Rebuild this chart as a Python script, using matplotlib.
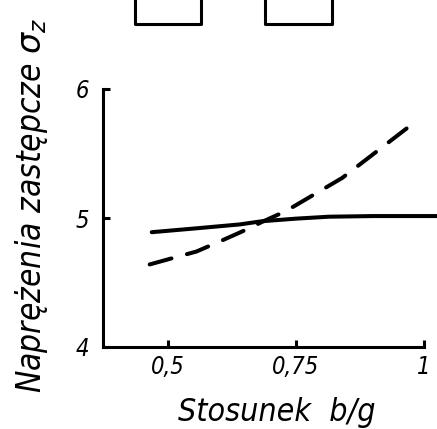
import matplotlib.pyplot as plt
from matplotlib.lines import Line2D

# --- dane ---
x_solid = [0.469, 0.556, 0.64, 0.684, 0.75, 0.814, 0.90, 1.025]
y_solid = [4.89, 4.92, 4.95, 4.975, 4.995, 5.01, 5.015, 5.015]

x_dash = [0.465, 0.556, 0.597, 0.659, 0.684, 0.723, 0.746, 0.84, 0.886, 0.984]
y_dash = [4.64, 4.74, 4.81, 4.92, 4.97, 5.04, 5.09, 5.31, 5.45, 5.75]

x_ticks = [0.5, 0.75, 1.0]
x_tick_labels = ["0,5", "0,75", "1"]
y_ticks = [4, 5, 6]
y_tick_labels = ["4", "5", "6"]

FONT = dict(family="DejaVu Sans", style="italic", stretch="condensed")

fig = plt.figure(figsize=(4.37, 4.29), dpi=100)
W, H = 437, 429

def fx(px):
    return px / W

def fy(py):
    return 1 - py / H

ax = fig.add_axes([fx(103), fy(347), fx(437) - fx(103), fy(89) - fy(347)])
ax.set_xlim(0.374, 1.025)
ax.set_ylim(4, 6)

ax.plot(x_solid, y_solid, color="black", lw=2.9, solid_capstyle="round", clip_on=False)
ax.plot(x_dash, y_dash, color="black", lw=2.9, linestyle=(0, (5.6, 4.0)),
        dash_capstyle="round", clip_on=False)

for s in ["top", "right"]:
    ax.spines[s].set_visible(False)
for s in ["left", "bottom"]:
    ax.spines[s].set_linewidth(2.2)
ax.spines["bottom"].set_bounds(0.374, 1.0)
ax.spines["left"].set_bounds(4, 6)

ax.set_xticks(x_ticks)
ax.set_xticklabels(x_tick_labels, fontsize=17, rotation=0, **FONT)
ax.set_yticks(y_ticks)
ax.set_yticklabels(y_tick_labels, fontsize=17, rotation=0, **FONT)
ax.tick_params(axis="both", direction="in", length=5, width=2.2)
ax.tick_params(axis="x", pad=6)
ax.tick_params(axis="y", pad=10)

fig.text(fx(277), fy(412), "Stosunek  b/g", fontsize=23,
         ha="center", va="center", **FONT)
fig.text(fx(32), fy(205), "Naprężenia zastępcze $\\sigma_z$", fontsize=24,
         rotation=90, ha="center", va="center", **FONT)

# szkice przekrojów u góry
for left, right in [(135, 201), (265, 332)]:
    fig.add_artist(Line2D([fx(left), fx(left), fx(right), fx(right)],
                          [fy(-2), fy(24), fy(24), fy(-2)],
                          transform=fig.transFigure, color="black", lw=2.2))

fig.savefig("out.png", dpi=100)
